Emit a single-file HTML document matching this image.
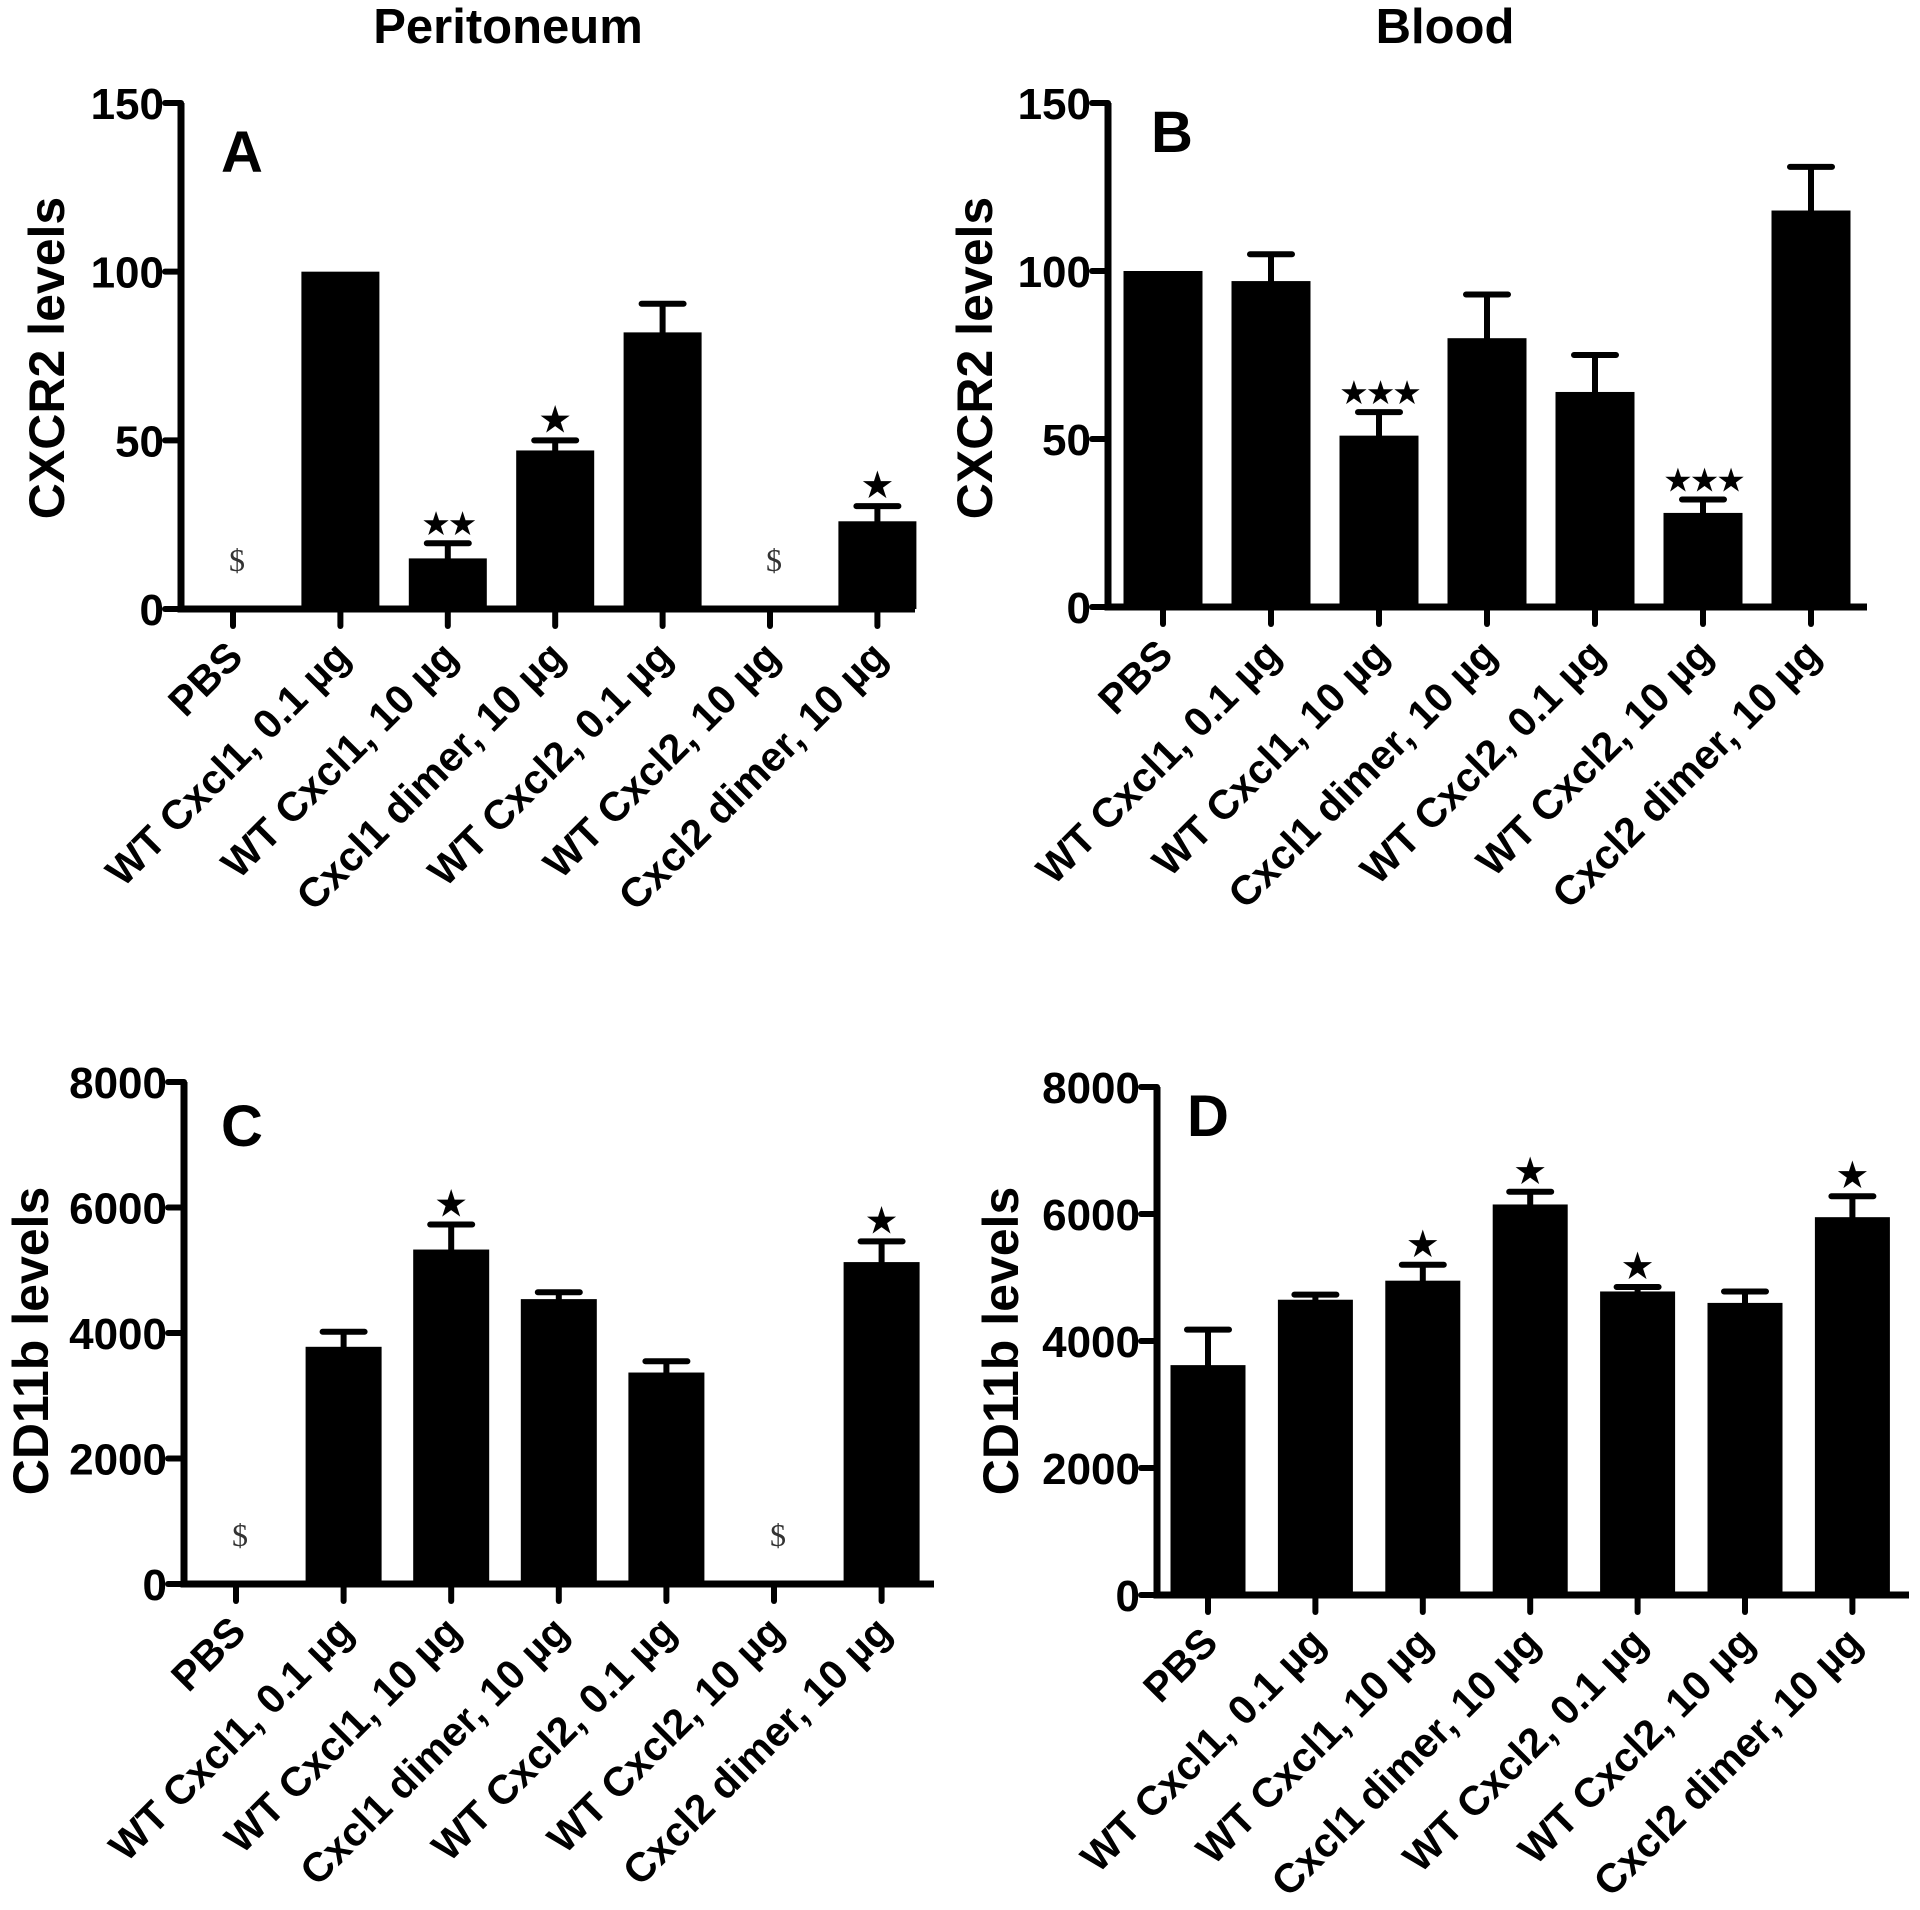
<!DOCTYPE html>
<html><head><meta charset="utf-8"><style>
html,body{margin:0;padding:0;background:#fff;}
svg{display:block;font-family:"Liberation Sans",Arial,sans-serif;}
</style></head><body>
<svg id="fig" width="1920" height="1910" viewBox="0 0 1920 1910" xmlns="http://www.w3.org/2000/svg">
<text x="508" y="43" font-size="49" font-weight="bold" text-anchor="middle">Peritoneum</text>
<text x="1445" y="43" font-size="49" font-weight="bold" text-anchor="middle">Blood</text>
</svg>
<script>
const categories = ["PBS","WT Cxcl1, 0.1 \u00b5g","WT Cxcl1, 10 \u00b5g","Cxcl1 dimer, 10 \u00b5g","WT Cxcl2, 0.1 \u00b5g","WT Cxcl2, 10 \u00b5g","Cxcl2 dimer, 10 \u00b5g"];
const valuesA = [0, 100, 15, 47, 82, 0, 26];
const errorsA = [0, 0, 4.5, 3, 8.5, 0, 4.5];
const marksA = ["$", "", "\u2605\u2605", "\u2605", "", "$", "\u2605"];
const valuesB = [100, 97, 51, 80, 64, 28, 118];
const errorsB = [0, 8, 7, 13, 11, 4, 13];
const marksB = ["", "", "\u2605\u2605\u2605", "", "", "\u2605\u2605\u2605", ""];
const valuesC = [0, 3780, 5330, 4540, 3370, 0, 5130];
const errorsC = [0, 240, 400, 110, 180, 0, 330];
const marksC = ["$", "", "\u2605", "", "", "$", "\u2605"];
const valuesD = [3620, 4650, 4950, 6150, 4780, 4600, 5950];
const errorsD = [560, 80, 250, 200, 70, 180, 330];
const marksD = ["", "", "\u2605", "\u2605", "\u2605", "", "\u2605"];
const ticksAB = [0, 50, 100, 150];
const ticksCD = [0, 2000, 4000, 6000, 8000];

const NS = "http://www.w3.org/2000/svg";
const svg = document.getElementById("fig");
function mk(tag, attrs, parent){
  const e = document.createElementNS(NS, tag);
  for (const k in attrs) e.setAttribute(k, attrs[k]);
  (parent || svg).appendChild(e);
  return e;
}

function panel(cfg){
  const g = mk("g", {});
  
  
  const yScale = v => cfg.y0 - (v / cfg.ymax) * (cfg.y0 - cfg.ytop);
  const xScale = i => cfg.x1 + cfg.step * i;
  cfg.values.forEach((v, i) => {
    const cx = xScale(i);
    if (v > 0) {
      const r = mk("rect", {x: cx - cfg.bw/2, y: yScale(v), width: cfg.bw, height: cfg.y0 - yScale(v), fill: "#000"}, g);
      
      
      const e = cfg.errors[i];
      if (e > 0) {
        const l = mk("path", {d: `M${cx} ${yScale(v)} V${yScale(v+e)} M${cx-21} ${yScale(v+e)} H${cx+21}`, stroke: "#000", "stroke-width": 6, fill: "none", "stroke-linecap": "round"}, g);
        
        
      }
    }
    const m = cfg.marks[i];
    if (m === "$") {
      const t = mk("text", {x: cx + 4, y: cfg.y0 - 38, "font-size": 32, "font-family": "Liberation Serif, serif", "text-anchor": "middle", fill: "#333"}, g);
      t.textContent = "$";
      
      
    } else if (m) {
      const top = yScale(v + cfg.errors[i]);
      const t = mk("text", {x: cx, y: top - 8, "font-size": m.length > 1 ? 33 : 38, "text-anchor": "middle", "font-family": "DejaVu Sans, sans-serif", "letter-spacing": m.length > 1 ? -3 : 0}, g);
      t.textContent = m;
      
      
    }
    const tk = mk("line", {x1: cx, x2: cx, y1: cfg.y0, y2: cfg.y0 + 17, stroke: "#000", "stroke-width": 6, "stroke-linecap": "round"}, g);
    
    
    const lb = mk("text", {x: 0, y: 0, "font-size": 41, "font-weight": "bold", "text-anchor": "end", transform: `translate(${cx + 12},${cfg.y0 + 50}) rotate(-45)`}, g);
    lb.textContent = categories[i];
    
    
  });
  const ax = mk("path", {d: `M${cfg.ax} ${cfg.ytop} V${cfg.y0} H${cfg.xend}`, stroke: "#000", "stroke-width": 7, fill: "none"}, g);
  
  
  cfg.ticks.forEach(t => {
    const y = yScale(t);
    const l = mk("line", {x1: cfg.ax - 16, x2: cfg.ax, y1: y, y2: y, stroke: "#000", "stroke-width": 6, "stroke-linecap": "round"}, g);
    
    
    const tx = mk("text", {x: cfg.ax - 17, y: y + 16, "font-size": 44, "font-weight": "bold", "text-anchor": "end"}, g);
    tx.textContent = t;
    
    
  });
  const yt = mk("text", {x: 0, y: 0, "font-size": 50, "font-weight": "bold", "text-anchor": "middle", transform: `translate(${cfg.ytx},${cfg.yty}) rotate(-90)`}, g);
  yt.textContent = cfg.ytitle;
  
  
  const pl = mk("text", {x: cfg.lx, y: cfg.ly, "font-size": 58, "font-weight": "bold", "text-anchor": "middle"}, g);
  pl.textContent = cfg.letter;
  
  
}

panel({name:"panel-a", values:valuesA, errors:errorsA, marks:marksA, ticks:ticksAB, ymax:150, y0:609, ytop:103, ax:181, x1:233, step:107.4, bw:78, xend:915, ytitle:"CXCR2  levels", ytx:64, yty:358, letter:"A", lx:242, ly:172});
panel({name:"panel-b", values:valuesB, errors:errorsB, marks:marksB, ticks:ticksAB, ymax:150, y0:607, ytop:103, ax:1108, x1:1163, step:108, bw:79, xend:1867, ytitle:"CXCR2  levels", ytx:992, yty:358, letter:"B", lx:1172, ly:152});
panel({name:"panel-c", values:valuesC, errors:errorsC, marks:marksC, ticks:ticksCD, ymax:8000, y0:1584, ytop:1082, ax:184, x1:236, step:107.6, bw:76, xend:934, ytitle:"CD11b levels", ytx:48, yty:1341, letter:"C", lx:242, ly:1146});
panel({name:"panel-d", values:valuesD, errors:errorsD, marks:marksD, ticks:ticksCD, ymax:8000, y0:1595, ytop:1087, ax:1157, x1:1208, step:107.4, bw:75, xend:1909, ytitle:"CD11b levels", ytx:1018, yty:1341, letter:"D", lx:1208, ly:1136});
</script>
</body></html>
